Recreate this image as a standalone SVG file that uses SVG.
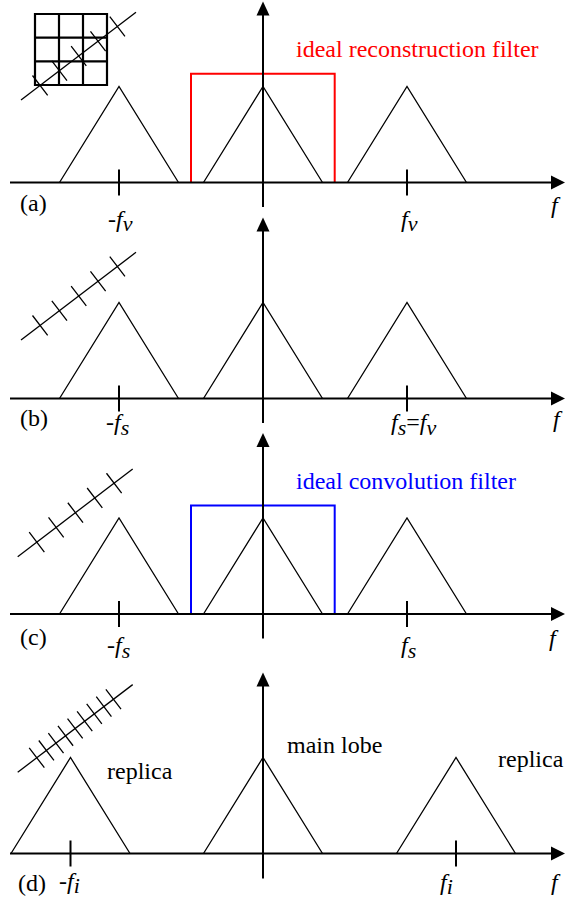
<svg xmlns="http://www.w3.org/2000/svg" width="566" height="899" viewBox="0 0 566 899">
<style>
.ax{stroke:#000;stroke-width:2;fill:none}
.tri{stroke:#000;stroke-width:1.3;fill:none}
.thin{stroke:#000;stroke-width:1.3;fill:none}
.grid{stroke:#000;stroke-width:2.2;fill:none}
.ah{fill:#000;stroke:none}
text{font-family:"Liberation Serif","Times New Roman",serif;font-size:24px;fill:#000}
.it{font-style:italic}
.sub{font-size:22px}
</style>
<defs>
<polygon id="ahr" class="ah" points="0,0 -14,-7 -14,7"/>
<polygon id="ahu" class="ah" points="0,0 -6.5,14 6.5,14"/>
<g id="tri"><path class="tri" d="M-59.5,0 L0,-96 L59.5,0"/></g>
</defs>
<rect width="566" height="899" fill="#fff"/>

<g id="panel-a">
<g id="grid-a">
<path class="grid" d="M35,14H107V85H35Z M59,14V85 M83,14V85 M35,37.7H107 M35,61.3H107"/>
<g transform="translate(21,100) rotate(-37.33)">
<line class="thin" x1="0" y1="0" x2="144.6" y2="0"/>
<path class="thin" d="M24,-12.5V12.5 M48.3,-12.5V12.5 M72.6,-12.5V12.5 M96.9,-12.5V12.5 M121.2,-12.5V12.5"/>
</g>
</g>
<use href="#tri" x="119" y="182.5"/>
<use href="#tri" x="263" y="182.5"/>
<use href="#tri" x="407" y="182.5"/>
<path d="M191,182.5V73.7H334.7V182.5" fill="none" stroke="#ff0000" stroke-width="2"/>
<text x="296" y="57" style="fill:#ff0000">ideal reconstruction filter</text>
<text x="20" y="210.5">(a)</text>
<text x="108" y="227">-<tspan class="it">f</tspan><tspan class="it sub" dy="4">v</tspan></text>
<text x="401" y="227"><tspan class="it">f</tspan><tspan class="it sub" dy="4">v</tspan></text>
<text x="551" y="213" class="it">f</text>
</g>

<g id="panel-b">
<g transform="translate(21,340) rotate(-37.33)">
<line class="thin" x1="0" y1="0" x2="144.6" y2="0"/>
<path class="thin" d="M24,-12.5V12.5 M48.3,-12.5V12.5 M72.6,-12.5V12.5 M96.9,-12.5V12.5 M121.2,-12.5V12.5"/>
</g>
<use href="#tri" x="119" y="398.5"/>
<use href="#tri" x="263" y="398.5"/>
<use href="#tri" x="407" y="398.5"/>
<text x="20" y="426">(b)</text>
<text x="106" y="430">-<tspan class="it">f</tspan><tspan class="it sub" dy="5">s</tspan></text>
<text x="391" y="430"><tspan class="it">f</tspan><tspan class="it sub" dy="5">s</tspan><tspan dy="-5">=</tspan><tspan class="it">f</tspan><tspan class="it sub" dy="5">v</tspan></text>
<text x="553" y="427" class="it">f</text>
</g>

<g id="panel-c">
<g transform="translate(17.7,556.7) rotate(-37.33)">
<line class="thin" x1="0" y1="0" x2="144.6" y2="0"/>
<path class="thin" d="M24,-12.5V12.5 M48.3,-12.5V12.5 M72.6,-12.5V12.5 M96.9,-12.5V12.5 M121.2,-12.5V12.5"/>
</g>
<use href="#tri" x="119" y="614"/>
<use href="#tri" x="263" y="614"/>
<use href="#tri" x="407" y="614"/>
<path d="M191,614V505.5H334.7V614" fill="none" stroke="#0000ff" stroke-width="2"/>
<text x="296" y="488.5" style="fill:#0000ff">ideal convolution filter</text>
<text x="20" y="645">(c)</text>
<text x="107" y="653">-<tspan class="it">f</tspan><tspan class="it sub" dy="5">s</tspan></text>
<text x="401" y="653"><tspan class="it">f</tspan><tspan class="it sub" dy="5">s</tspan></text>
<text x="549" y="646" class="it">f</text>
</g>

<g id="panel-d">
<g transform="translate(17.7,772.3) rotate(-37.33)">
<line class="thin" x1="0" y1="0" x2="144.6" y2="0"/>
<path class="thin" d="M24,-12.5V12.5 M36.05,-12.5V12.5 M48.1,-12.5V12.5 M60.15,-12.5V12.5 M72.2,-12.5V12.5 M84.25,-12.5V12.5 M96.3,-12.5V12.5 M108.35,-12.5V12.5 M120.4,-12.5V12.5"/>
</g>
<use href="#tri" x="70.5" y="853.5"/>
<use href="#tri" x="263" y="853.5"/>
<use href="#tri" x="456" y="853.5"/>
<text x="107" y="779">replica</text>
<text x="287" y="753">main lobe</text>
<text x="498" y="767">replica</text>
<text x="18" y="891">(d)</text>
<text x="59" y="889">-<tspan class="it">f</tspan><tspan class="it sub" dy="4">i</tspan></text>
<text x="440" y="890"><tspan class="it">f</tspan><tspan class="it sub" dy="4">i</tspan></text>
<text x="551" y="890" class="it">f</text>
</g>

<g id="connectors">
<path class="ax" d="M10,182.5H553 M263,207V14 M119,169.5V195.5 M407,169.5V195.5"/>
<use href="#ahr" x="565" y="182.5"/>
<use href="#ahu" x="263" y="1.5"/>
<path class="ax" d="M10,398.5H553 M263,423V230 M119,385.5V411.5 M407,385.5V411.5"/>
<use href="#ahr" x="565" y="398.5"/>
<use href="#ahu" x="263" y="217.5"/>
<path class="ax" d="M10,614H553 M263,638.5V445 M119,601V627 M407,601V627"/>
<use href="#ahr" x="565" y="614"/>
<use href="#ahu" x="263" y="433"/>
<path class="ax" d="M10,853.5H553 M263,878.5V685 M70.5,840.5V866.5 M456,840.5V866.5"/>
<use href="#ahr" x="565" y="853.5"/>
<use href="#ahu" x="263" y="672.5"/>
</g>
</svg>
